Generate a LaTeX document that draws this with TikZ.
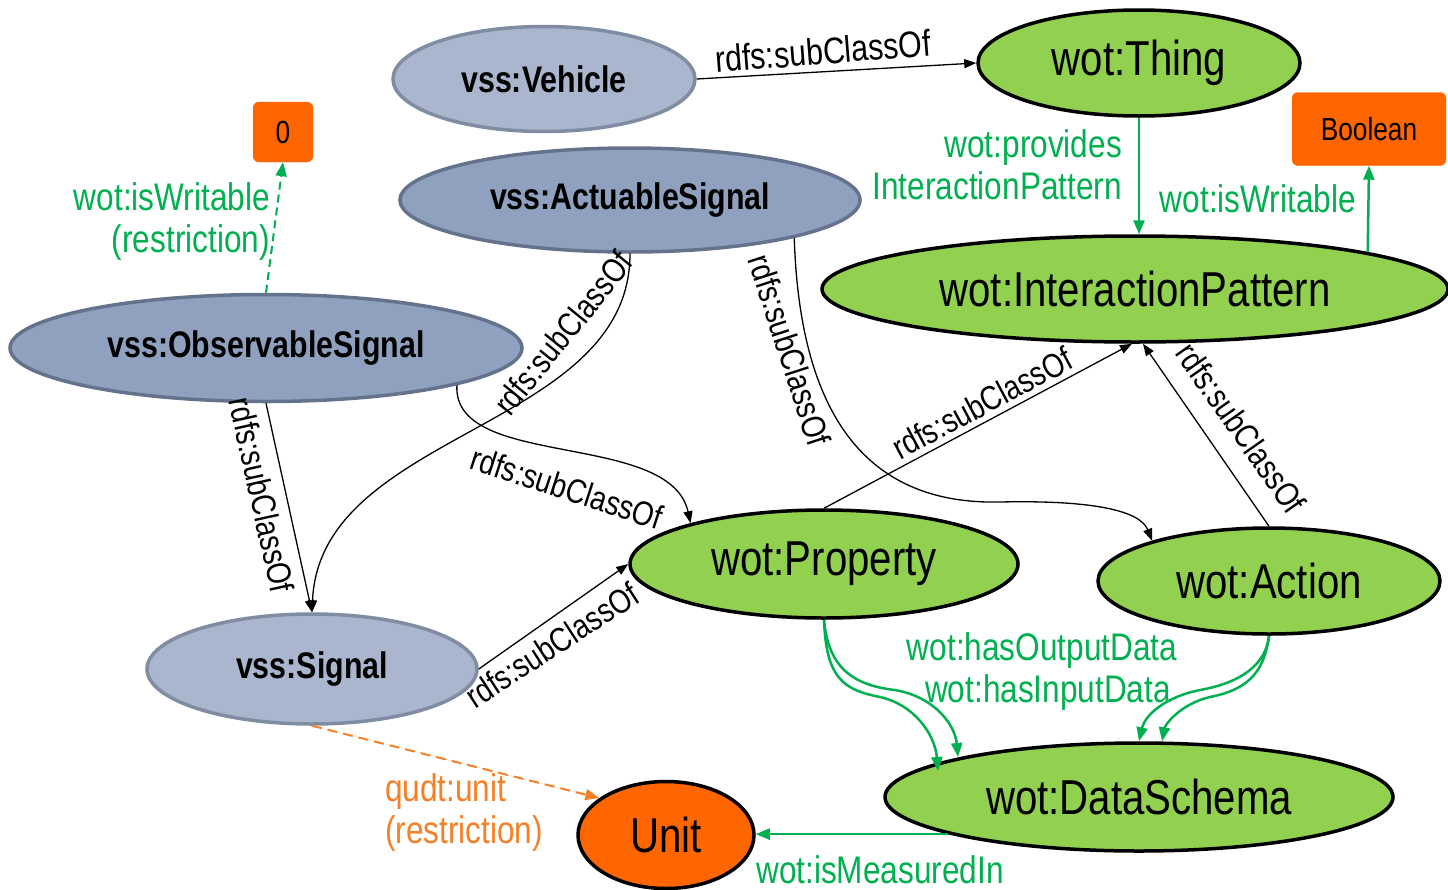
\documentclass[tikz,border=0pt]{standalone}
\usepackage{fontspec}
\setmainfont[FakeStretch=0.82]{Liberation Sans}
\usetikzlibrary{shapes.geometric,arrows.meta}
\definecolor{lblue}{RGB}{170,182,206}
\definecolor{lblueb}{RGB}{128,140,162}
\definecolor{dblue}{RGB}{143,161,191}
\definecolor{dblueb}{RGB}{100,114,140}
\definecolor{wgreen}{RGB}{146,208,80}
\definecolor{egreen}{RGB}{0,176,80}
\definecolor{orng}{RGB}{255,102,0}
\definecolor{otext}{RGB}{245,128,40}
\tikzset{
 ell/.style={ellipse, inner sep=0pt, line width=3.5pt},
 vss/.style={ell, font=\bfseries\fontsize{37}{42}\selectfont},
 lb/.style={vss, fill=lblue, draw=lblueb},
 db/.style={vss, fill=dblue, draw=dblueb},
 wot/.style={ell, fill=wgreen, draw=black, font=\fontsize{49}{55}\selectfont},
 obox/.style={rectangle, rounded corners=6pt, fill=orng, draw=orng, font=\fontsize{32}{36}\selectfont, inner sep=0pt},
 sub/.style={line width=1.3pt, -{Triangle[length=12pt,width=9pt]}},
 gr/.style={draw=egreen, line width=2.5pt, -{Triangle[length=14pt,width=11pt]}},
 lbl/.style={font=\fontsize{38.5}{42}\selectfont, inner sep=0pt},
 rlbl/.style={font=\fontsize{34}{40}\selectfont, inner sep=0pt},
 glbl/.style={lbl, text=egreen},
}
\begin{document}
\begin{tikzpicture}[x=1pt,y=-1pt]
\fill[white] (0,0) rectangle (1448,889);
\useasboundingbox (0,0) rectangle (1448,889);

% nodes
\node[lb, minimum width=302, minimum height=105] (veh) at (544,79) {vss:Vehicle};
\node[wot, minimum width=322, minimum height=106] (thing) at (1139,63) {wot:Thing};
\node[obox, minimum width=60, minimum height=60] (zero) at (283,132) {0};
\node[obox, minimum width=154, minimum height=73] (bool) at (1369,129) {Boolean};
\node[db, minimum width=460, minimum height=104] (act) at (630,200) {vss:ActuableSignal};
\node[wot, minimum width=626, minimum height=106] (ip) at (1135,289) {wot:InteractionPattern};
\node[db, minimum width=512, minimum height=107] (obs) at (266,348) {vss:ObservableSignal};
\node[wot, minimum width=388, minimum height=108] (prop) at (824,564) {wot:Property};
\node[wot, minimum width=342, minimum height=106] (action) at (1269,581) {wot:Action};
\node[lb, minimum width=330, minimum height=110] (sig) at (312,669) {vss:Signal};
\node[wot, minimum width=508, minimum height=108] (ds) at (1139,797) {wot:DataSchema};
\node[wot, fill=orng, minimum width=176, minimum height=107] (unit) at (666,835) {Unit};

% black subclass edges
\draw[sub] (veh.east) -- (thing.west);
\draw[sub] (obs.south) -- (sig.north);
\draw[sub] (act.south) .. controls (630,430) and (320,430) .. (sig.north);
\draw[sub] (obs.-11.5) .. controls (452,470) and (670,430) .. (prop.163);
\draw[sub] (act.-13) .. controls (800,420) and (870,505) .. (1000,502) .. controls (1090,500) and (1140,510) .. (action.161);
\draw[sub] (prop.north) -- ([xshift=-3pt]ip.south);
\draw[sub] (action.north) -- ([xshift=8pt]ip.south);
\draw[sub] (sig.east) -- (prop.west);

% labels of subclass edges
\node[lbl, font=\fontsize{37}{42}\selectfont, rotate=4.5] (l1) at (823,51) {rdfs:subClassOf};
\node[rlbl, rotate=-77.5] (l2) at (262,495) {rdfs:subClassOf};
\node[rlbl, rotate=51] (l3) at (563,333) {rdfs:subClassOf};
\node[rlbl, rotate=-18] (l4) at (567,488) {rdfs:subClassOf};
\node[rlbl, rotate=-72] (l5) at (790,350) {rdfs:subClassOf};
\node[rlbl, rotate=28] (l6) at (982,403) {rdfs:subClassOf};
\node[rlbl, rotate=-55] (l7) at (1241,428) {rdfs:subClassOf};
\node[rlbl, rotate=33] (l8) at (552,645) {rdfs:subClassOf};

% green edges
\draw[gr] (thing.south) -- (thing.south |- ip.north);
\node[glbl, align=right, anchor=east] (lprov) at (1122,165) {wot:provides\\InteractionPattern};
\draw[gr] (ip.9) -- (bool.south);
\node[glbl, anchor=east] (lwr) at (1356,199) {wot:isWritable};
\draw[gr, line width=2pt, dash pattern=on 8pt off 5pt] (obs.north) -- (zero.south);
\node[glbl, align=right, anchor=east] (lwr2) at (270,222) {wot:isWritable\\(restriction)};

\draw[gr] (prop.south) .. controls (826,680) and (845,690) .. (880,697) .. controls (915,705) and (935,735) .. ([shift={(-201,-26)}]ds.center);
\draw[gr] (prop.south) .. controls (828,665) and (850,685) .. (895,690) .. controls (935,697) and (955,725) .. ([shift={(-181,-40)}]ds.center);
\draw[gr] (action.south) .. controls (1266,665) and (1240,683) .. (1200,690) .. controls (1165,697) and (1145,715) .. (ds.north);
\draw[gr] (action.south) .. controls (1264,675) and (1245,690) .. (1210,697) .. controls (1180,704) and (1165,725) .. ([xshift=23pt]ds.north);
\node[glbl] (lout) at (1042,651) {wot:hasOutputData};
\node[glbl] (lin) at (1048,693) {wot:hasInputData};

\draw[gr] (ds.191) -- (ds.191 -| unit.east);
\node[glbl] (lmeas) at (880,870) {wot:isMeasuredIn};

% orange restriction
\draw[draw=otext, line width=2pt, dash pattern=on 10pt off 6pt, -{Triangle[length=14pt,width=11pt]}, fill=otext] (sig.south) -- (unit.151);
\node[lbl, text=otext, align=left, anchor=west] (lunit) at (385,813) {qudt:unit\\(restriction)};
\end{tikzpicture}
\end{document}
